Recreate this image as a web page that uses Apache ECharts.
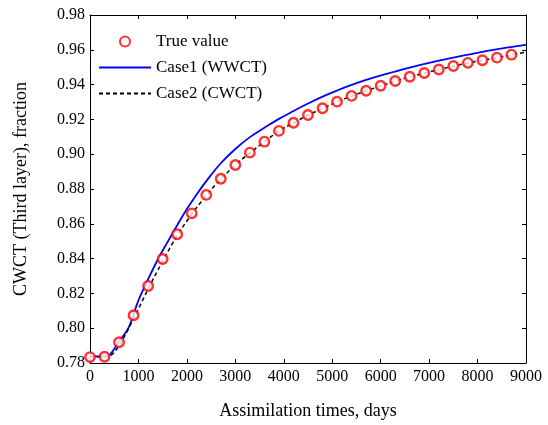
<!DOCTYPE html>
<html>
<head>
<meta charset="utf-8">
<script src="https://cdn.jsdelivr.net/npm/echarts@6/dist/echarts.min.js"></script>
<style>html,body{margin:0;padding:0;background:#fff}#c{width:548px;height:425px}</style>
</head>
<body>
<div id="c"></div>
<script>
// True value markers
var trueDays = [0,300,600,900,1200,1500,1800,2100,2400,2700,3000,3300,3600,3900,4200,4500,4800,5100,5400,5700,6000,6300,6600,6900,7200,7500,7800,8100,8400,8700];
var trueValues = [0.7834,0.7836,0.7919,0.8074,0.8243,0.8398,0.8540,0.8660,0.8766,0.8859,0.8938,0.9009,0.9072,0.9134,0.9181,0.9225,0.9264,0.9302,0.9335,0.9365,0.9393,0.9421,0.9445,0.9467,0.9487,0.9507,0.9525,0.9540,0.9555,0.9572];
// Case1 (WWCT)
var case1Days = [0,300,400,600,800,1000,1200,1400,1600,1800,2000,2200,2400,2700,3000,3300,3600,3900,4200,4500,4800,5100,5400,5800,6200,6600,7000,7400,7800,8200,8600,9000];
var case1Values = [0.7838,0.7838,0.7845,0.7925,0.8005,0.8160,0.8282,0.8395,0.8495,0.8592,0.8685,0.8768,0.8845,0.8948,0.9030,0.9098,0.9152,0.9203,0.9248,0.9291,0.9331,0.9366,0.9398,0.9436,0.9468,0.9498,0.9525,0.9549,0.9572,0.9594,0.9612,0.9628];
// Case2 (CWCT)
var case2Days = [0,300,400,600,900,1200,1500,1800,2100,2400,2700,3000,3300,3600,3900,4200,4500,4800,5100,5400,5700,6000,6300,6600,6900,7200,7500,7800,8100,8400,8700,9000];
var case2Values = [0.7836,0.7836,0.7840,0.7900,0.8055,0.8225,0.8385,0.8532,0.8655,0.8762,0.8857,0.8937,0.9008,0.9071,0.9133,0.9180,0.9224,0.9263,0.9301,0.9334,0.9364,0.9392,0.9420,0.9444,0.9466,0.9486,0.9506,0.9524,0.9540,0.9555,0.9571,0.9586];

var xTicks = [0,1000,2000,3000,4000,5000,6000,7000,8000,9000];
var yTicks = [0.78,0.80,0.82,0.84,0.86,0.88,0.90,0.92,0.94,0.96,0.98];

function pairs(xs, ys){ return xs.map(function(x,i){return [x, ys[i]];}); }

var font = 'Liberation Serif';
var chart = echarts.init(document.getElementById('c'), null, {renderer:'canvas'});
var axisCommon = {
  axisLine:{show:true, onZero:false, lineStyle:{color:'#000', width:1}},
  axisTick:{show:true, inside:true, length:4, lineStyle:{color:'#000'}},
  splitLine:{show:false}
};
chart.setOption({
  animation:false,
  backgroundColor:'#fff',
  grid:{left:90, right:22, top:15, bottom:62},
  legend:{
    orient:'vertical', left:93, top:28, itemGap:9,
    itemWidth:52, itemHeight:10,
    textStyle:{fontFamily:font, fontSize:17, color:'#000'},
    data:[
      {name:'True value'},
      {name:'Case1 (WWCT)', itemStyle:{opacity:0}},
      {name:'Case2 (CWCT)', itemStyle:{opacity:0}}
    ]
  },
  xAxis:[
    Object.assign({type:'value', min:xTicks[0], max:xTicks[xTicks.length-1], interval:1000,
      name:'Assimilation times, days', nameLocation:'middle', nameGap:39,
      nameTextStyle:{fontFamily:font, fontSize:18, color:'#000'},
      axisLabel:{fontFamily:font, fontSize:16, color:'#000', margin:6,
        formatter:function(v){return String(v);}}}, axisCommon),
    Object.assign({type:'value', position:'top', min:xTicks[0], max:xTicks[xTicks.length-1], interval:1000,
      axisLabel:{show:false}}, axisCommon)
  ],
  yAxis:[
    Object.assign({type:'value', min:yTicks[0], max:yTicks[yTicks.length-1], interval:0.02,
      name:'CWCT (Third layer), fraction', nameLocation:'middle', nameGap:60,
      nameTextStyle:{fontFamily:font, fontSize:18, color:'#000'},
      axisLabel:{fontFamily:font, fontSize:16, color:'#000', margin:5,
        formatter:function(v){return v.toFixed(2);}}}, axisCommon),
    Object.assign({type:'value', position:'right', min:yTicks[0], max:yTicks[yTicks.length-1], interval:0.02,
      axisLabel:{show:false}}, axisCommon)
  ],
  series:[
    {name:'Case1 (WWCT)', type:'line', data:pairs(case1Days, case1Values), smooth:0.4,
      showSymbol:false, symbol:'none', z:2,
      lineStyle:{color:'#0000ff', width:1.8}, itemStyle:{color:'#0000ff'}},
    {name:'Case2 (CWCT)', type:'line', data:pairs(case2Days, case2Values), smooth:0.4,
      showSymbol:false, symbol:'none', z:3,
      lineStyle:{color:'#000', width:1.5, type:[4,3]}, itemStyle:{color:'#000'}},
    {name:'True value', type:'scatter', data:pairs(trueDays, trueValues), z:4,
      symbol:'circle', symbolSize:9.5,
      itemStyle:{color:'#fff', borderColor:'#ff0000', borderWidth:2.4}}
  ]
});
</script>
</body>
</html>
